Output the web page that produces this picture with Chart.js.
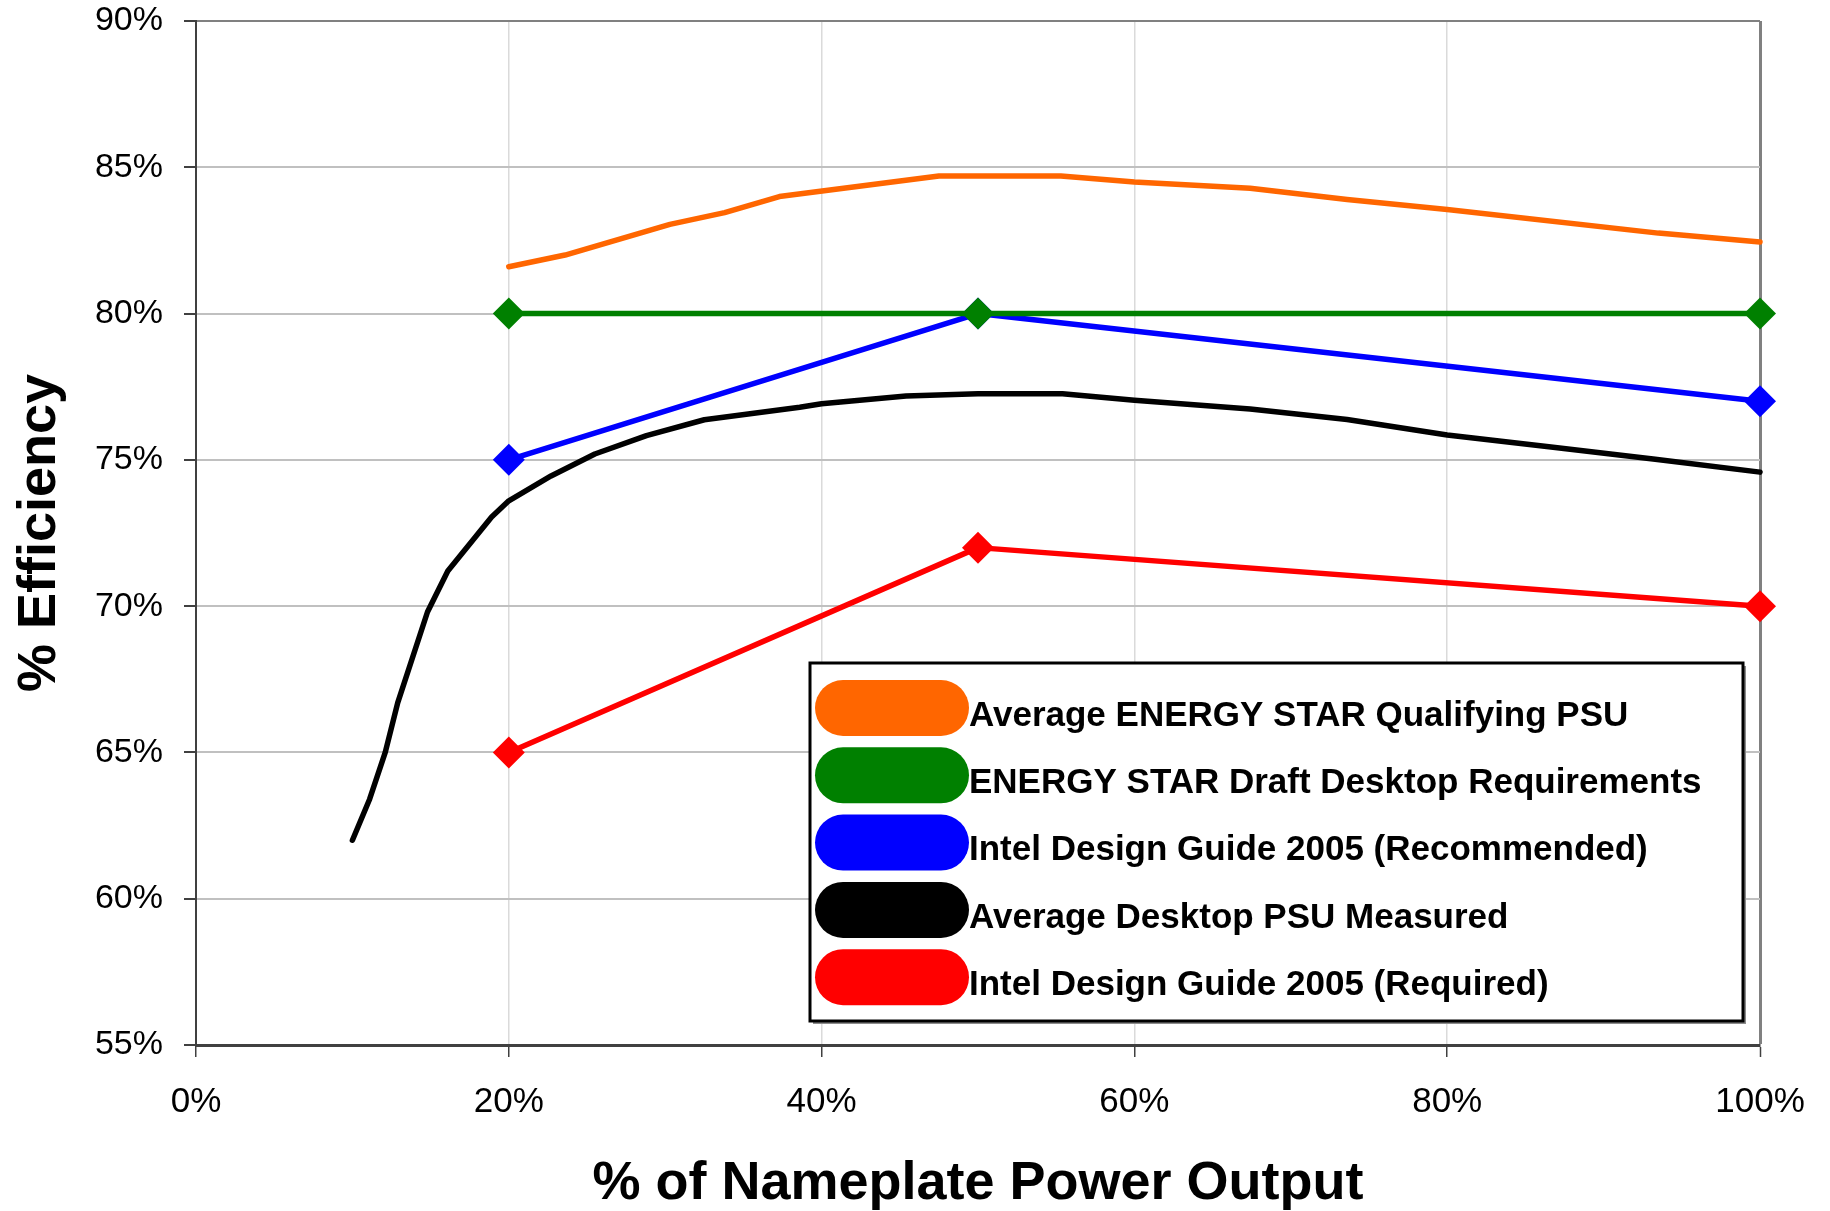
<!DOCTYPE html>
<html>
<head>
<meta charset="utf-8">
<title>PSU Efficiency</title>
<script src="https://cdn.jsdelivr.net/npm/chart.js@4.4.0/dist/chart.umd.min.js"></script>
<style>
  body { margin: 0; background: #fff; }
  #wrap { width: 1830px; height: 1211px; }
</style>
</head>
<body>
<div id="wrap"><canvas id="cnvEff" width="1830" height="1211"></canvas></div>
<script>
  const FONT = '"Liberation Sans", Arial, sans-serif'

  const seriesNames = [
    'Average ENERGY STAR Qualifying PSU',
    'ENERGY STAR Draft Desktop Requirements',
    'Intel Design Guide 2005 (Recommended)',
    'Average Desktop PSU Measured',
    'Intel Design Guide 2005 (Required)',
  ]
  const seriesColors = ['#FF6600', '#008000', '#0000FF', '#000000', '#FF0000']

  // load points (% of nameplate) for the three spec lines
  const specLoad = [20, 50, 100]
  const draftReq = [80, 80, 80]
  const intelRecommended = [75, 80, 77]
  const intelRequired = [65, 72, 70]

  // qualifying PSU average
  const starLoad = [20, 23.6, 30.3, 33.8, 37.3, 47.5, 55.3, 60.0, 67.4, 73.6, 80.0, 93.5, 100]
  const starEff = [81.6, 82.0, 83.05, 83.45, 84.0, 84.7, 84.7, 84.5, 84.28, 83.9, 83.56, 82.75, 82.45]

  // measured desktop PSU average
  const measuredLoad = [10, 11.1, 12.1, 12.9, 14.8, 16.1, 18.9, 20.0, 22.7, 25.5, 28.8, 32.5, 38.6,
    40.0, 45.4, 50.0, 55.4, 60.0, 67.4, 73.6, 80.0, 86.5, 93.3, 100]
  const measuredEff = [62.0, 63.4, 65.0, 66.7, 69.8, 71.2, 73.05, 73.6, 74.45, 75.2, 75.83, 76.37, 76.8,
    76.92, 77.18, 77.26, 77.26, 77.04, 76.74, 76.38, 75.85, 75.45, 75.02, 74.58]

  const xTickStep = 20
  const yMin = 55, yMax = 90, yTickStep = 5

  function pts(xs, ys) {
    return xs.map((x, i) => ({ x: x, y: ys[i] }))
  }

  function curve(i, data) {
    return {
      label: seriesNames[i],
      data: data,
      borderColor: seriesColors[i],
      backgroundColor: seriesColors[i],
      borderWidth: 5.5,
      borderCapStyle: 'round',
      borderJoinStyle: 'round',
      pointRadius: 0,
      fill: false,
      tension: 0,
      clip: false,
    }
  }

  function spec(i, data) {
    let ds = curve(i, data)
    ds.pointStyle = 'rectRot'
    ds.pointRadius = 16
    ds.pointBorderWidth = 0
    ds.pointBackgroundColor = seriesColors[i]
    return ds
  }

  // rounded "pill" swatch
  function pill(ctx, x, y, w, h) {
    let r = h / 2
    ctx.beginPath()
    ctx.moveTo(x + r, y)
    ctx.lineTo(x + w - r, y)
    ctx.arc(x + w - r, y + r, r, -Math.PI / 2, Math.PI / 2)
    ctx.lineTo(x + r, y + h)
    ctx.arc(x + r, y + r, r, Math.PI / 2, Math.PI * 1.5)
    ctx.closePath()
  }

  const boxLegend = {
    id: 'boxLegend',
    afterDraw(chart) {
      const ctx = chart.ctx
      const left = 810, top = 663, right = 1743, bottom = 1021
      ctx.save()
      ctx.fillStyle = '#8c8c8c'
      ctx.fillRect(left + 3, top + 3, right - left, bottom - top)
      ctx.fillStyle = '#fff'
      ctx.fillRect(left, top, right - left, bottom - top)
      ctx.lineWidth = 3
      ctx.strokeStyle = '#000'
      ctx.strokeRect(left, top, right - left, bottom - top)
      ctx.font = 'bold 35px ' + FONT
      ctx.textBaseline = 'middle'
      ctx.textAlign = 'left'
      chart.data.datasets.forEach((ds, i) => {
        let cy = 708 + i * 67.3
        pill(ctx, 815, cy - 28, 154, 56)
        ctx.fillStyle = ds.borderColor
        ctx.fill()
        ctx.fillStyle = '#000'
        ctx.fillText(ds.label, 969, cy + 8)
      })
      ctx.restore()
    },
  }

  let ctx = document.getElementById('cnvEff').getContext('2d')
  let chart = new Chart(ctx, {
    type: 'line',
    data: {
      datasets: [
        curve(0, pts(starLoad, starEff)),
        spec(1, pts(specLoad, draftReq)),
        spec(2, pts(specLoad, intelRecommended)),
        curve(3, pts(measuredLoad, measuredEff)),
        spec(4, pts(specLoad, intelRequired)),
      ],
    },
    options: {
      responsive: false,
      animation: false,
      layout: { autoPadding: false, padding: { top: 21, right: 70, left: 0, bottom: 0 } },
      plugins: { legend: { display: false }, tooltip: { enabled: false } },
      scales: {
        x: {
          type: 'linear',
          min: 0,
          max: 100,
          afterFit: (s) => { s.height = 166 },
          ticks: {
            stepSize: xTickStep,
            callback: (v) => v + '%',
            color: '#000',
            font: { family: FONT, size: 35 },
            padding: 24,
            maxRotation: 0,
          },
          grid: {
            color: (c) => c.tick.value === 100 ? '#808080' : '#dadada',
            lineWidth: (c) => c.tick.value === 100 ? 3 : 1.5,
            tickLength: 12,
            tickColor: '#404040',
            tickWidth: 1.5,
          },
          border: { color: '#404040', width: 3 },
          title: {
            display: true,
            text: '% of Nameplate Power Output',
            color: '#000',
            font: { family: FONT, size: 54, weight: 'bold', lineHeight: 1 },
            padding: { top: 0, bottom: 0 },
          },
        },
        y: {
          min: yMin,
          max: yMax,
          afterFit: (s) => {
            s.width = 196
            // the tick gap is horizontal only; don't let it push the plot down
            s.paddingTop = 0
            s.paddingBottom = 0
          },
          ticks: {
            stepSize: yTickStep,
            callback: (v) => v + '%',
            color: '#000',
            font: { family: FONT, size: 34 },
            padding: 21,
          },
          grid: {
            color: (c) => c.tick.value === yMax ? '#808080' : '#c0c0c0',
            lineWidth: 2,
            tickLength: 12,
            tickColor: '#404040',
          },
          border: { color: '#404040', width: 2 },
          title: {
            display: true,
            text: '% Efficiency',
            color: '#000',
            font: { family: FONT, size: 54, weight: 'bold', lineHeight: 1 },
            padding: { top: 13, bottom: 0 },
          },
        },
      },
    },
    plugins: [boxLegend],
  })
</script>
</body>
</html>
